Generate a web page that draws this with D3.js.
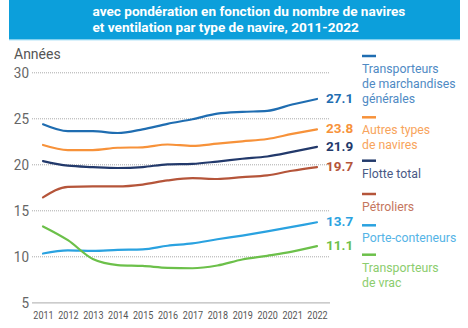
<!DOCTYPE html>
<html><head><meta charset="utf-8">
<script src="https://cdn.jsdelivr.net/npm/d3@7"></script>
<style>
html,body{margin:0;padding:0;background:#fff;}
svg{display:block;font-family:Roboto,"Liberation Sans",sans-serif;}
</style></head>
<body><svg id="c" width="468" height="328"></svg>
<script>
const years = [2011,2012,2013,2014,2015,2016,2017,2018,2019,2020,2021,2022];
const yTicks = [5,10,15,20,25,30];
const seriesNames = ["Transporteurs de marchandises générales","Autres types de navires","Flotte total","Pétroliers","Porte-conteneurs","Transporteurs de vrac"];
const legendLines = [["Transporteurs","de marchandises","générales"],["Autres types","de navires"],["Flotte total"],["Pétroliers"],["Porte-conteneurs"],["Transporteurs","de vrac"]];
const generalCargo = [24.35,23.6,23.6,23.4,23.8,24.4,24.9,25.5,25.7,25.8,26.5,27.1];
const otherTypes   = [22.1,21.55,21.55,21.8,21.85,22.15,22.0,22.25,22.5,22.75,23.3,23.8];
const totalFleet   = [20.35,19.85,19.7,19.6,19.7,20.0,20.05,20.3,20.6,20.85,21.35,21.9];
const oilTankers   = [16.4,17.55,17.6,17.6,17.8,18.25,18.5,18.4,18.6,18.8,19.3,19.7];
const containers   = [10.3,10.65,10.6,10.7,10.75,11.15,11.4,11.85,12.25,12.7,13.2,13.7];
const bulkCarriers = [13.25,11.75,9.7,9.05,8.95,8.75,8.7,9.0,9.65,10.05,10.5,11.1];
const seriesValues = [generalCargo,otherTypes,totalFleet,oilTankers,containers,bulkCarriers];
const colors = ["#1f6db1","#f7923a","#22396b","#b5553a","#2aa2e0","#6cc04a"];
const legendColors = ["#4f8ac4","#f8a45c","#4a5a85","#c5765e","#55b4e6","#8ccd6e"];
const titleLines = ["avec pondération en fonction du nombre de navires","et ventilation par type de navire, 2011-2022"];

const svg = d3.select("#c");
// title band
svg.append("rect").attr("x",9).attr("y",0).attr("width",451).attr("height",39.5).attr("fill","#0c9fdb");
svg.append("line").attr("x1",9).attr("x2",460).attr("y1",39.8).attr("y2",39.8).attr("stroke","#7fd0f0").attr("stroke-width",1);
titleLines.forEach((t,i)=>{
  svg.append("text").attr("x",92.5).attr("y",15.5+i*16.5).attr("fill","#fff")
    .attr("font-size",13.6).attr("font-weight","bold").attr("font-family","Roboto, sans-serif").text(t);
});

const x = d3.scalePoint().domain(years).range([43,317]);
const y = d3.scaleLinear().domain([5,30]).range([302.3,72.3]);

// y axis gridlines
const yAxis = d3.axisLeft(y).tickValues(yTicks).tickSize(-298).tickFormat(d3.format("d"));
const gy = svg.append("g").attr("transform","translate(32,0)").call(yAxis);
gy.select(".domain").remove();
gy.selectAll(".tick line").attr("stroke","#aaa").attr("stroke-dasharray","1,1").attr("stroke-width",1);
gy.selectAll(".tick").filter(d=>d===5).select("line").attr("stroke-dasharray",null).attr("stroke","#bbb").attr("stroke-width",1.2);
gy.selectAll(".tick text").attr("fill","#666").attr("font-size",15).attr("font-family","Roboto, sans-serif").attr("dy","0.35em")
  .attr("transform","scale(0.9,1)").attr("x",-3/0.9);

// x axis
const xAxis = d3.axisBottom(x).tickSize(0).tickFormat(d3.format("d"));
const gx = svg.append("g").attr("transform","translate(0,310)").call(xAxis);
gx.select(".domain").remove();
gx.selectAll(".tick text").attr("fill","#555").attr("font-size",11).attr("font-family","Roboto, sans-serif").attr("dy","0.5em")
  .attr("transform","scale(0.82,1)");

svg.append("text").attr("x",14).attr("y",59).attr("fill","#555").attr("font-size",14).attr("font-family","Roboto, sans-serif").text("Années");

const line = d3.line().x((d,i)=>x(years[i])).y(d=>y(d)).curve(d3.curveMonotoneX);
seriesValues.forEach((vals,k)=>{
  svg.append("path").datum(vals).attr("d",line).attr("fill","none")
    .attr("stroke",colors[k]).attr("stroke-width",2.2).attr("stroke-linejoin","round").attr("stroke-linecap","round");
  const last = vals[vals.length-1];
  svg.append("text").attr("x",326).attr("y",y(last)-1).attr("dy","0.35em")
    .attr("fill",colors[k]).attr("font-weight","bold").attr("font-size",13.5)
    .attr("font-family","Roboto, sans-serif").text(d3.format(".1f")(last));
});

// legend
const legendTop = [56,117.3,160.7,194,225.3,254.7];
const lg = svg.append("g").attr("transform","translate(362,0)");
legendLines.forEach((lines,k)=>{
  lg.append("line").attr("x1",0).attr("x2",14).attr("y1",legendTop[k]).attr("y2",legendTop[k])
    .attr("stroke",colors[k]).attr("stroke-width",2.5);
  lines.forEach((t,j)=>{
    lg.append("text").attr("x",0).attr("y",legendTop[k]+12.5+j*15).attr("dy","0.35em")
      .attr("transform","scale(0.93,1)")
      .attr("fill",legendColors[k]).attr("font-size",13.2)
      .attr("font-family","Roboto, sans-serif").text(t);
  });
});
</script></body></html>
